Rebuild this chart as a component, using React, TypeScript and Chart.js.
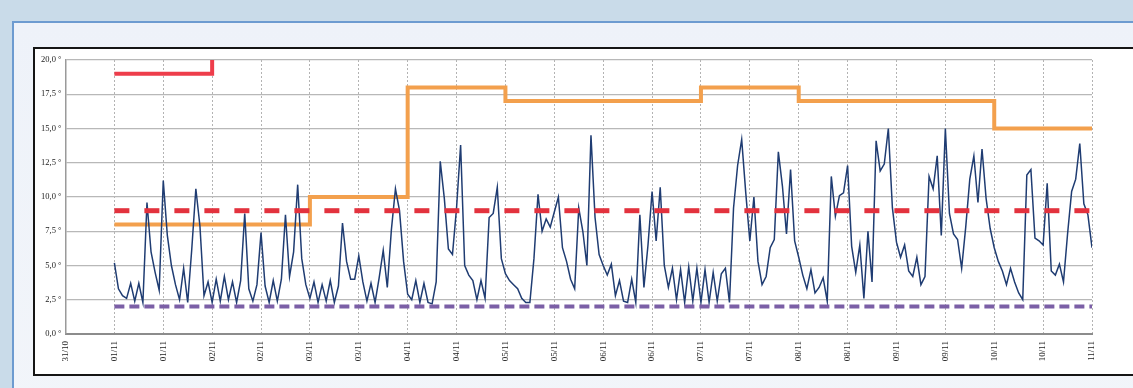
import React, { useEffect, useRef } from 'react';
import { Chart, registerables } from 'chart.js';

Chart.register(...registerables);

// x axis: hours since 31/10 12:00, one tick every 12 hours
const xTickLabels = [
  '31/10', '01/11', '01/11', '02/11', '02/11', '03/11', '03/11', '04/11', '04/11', '05/11', '05/11',
  '06/11', '06/11', '07/11', '07/11', '08/11', '08/11', '09/11', '09/11', '10/11', '10/11', '11/11',
];
const xMin = 0;
const xMax = 252;
const xStep = 12;

const yMin = 0;
const yMax = 20;
const yStep = 2.5;

// measured temperature, hourly, starting at hour 12 (01/11 00:00)
const temperatureStartHour = 12;
const temperature = [
  5.2, 3.3, 2.8, 2.6, 3.7, 2.4, 3.7, 2.3, 9.6, 6.0, 4.5, 3.2, 11.2, 7.2, 5.0, 3.6, 2.5, 4.8, 2.3, 6.2,
  10.6, 7.9, 2.8, 3.8, 2.3, 4.0, 2.4, 4.2, 2.5, 3.8, 2.3, 3.9, 8.8, 3.3, 2.4, 3.6, 7.4, 3.5, 2.3, 3.9,
  2.4, 4.0, 8.7, 4.2, 6.0, 10.9, 5.5, 3.6, 2.6, 3.8, 2.3, 3.6, 2.4, 3.9, 2.3, 3.5, 8.1, 5.3, 4.0, 4.0,
  5.7, 3.8, 2.4, 3.7, 2.3, 4.1, 6.1, 3.4, 7.6, 10.6, 9.0, 5.3, 2.9, 2.5, 3.9, 2.3, 3.7, 2.3, 2.2, 3.8,
  12.6, 9.9, 6.2, 5.8, 9.2, 13.8, 5.0, 4.3, 3.9, 2.5, 3.9, 2.6, 8.5, 8.8, 10.7, 5.5, 4.4, 3.9, 3.6, 3.3,
  2.6, 2.3, 2.3, 5.5, 10.2, 7.5, 8.4, 7.8, 8.9, 10.0, 6.3, 5.3, 4.0, 3.3, 9.2, 7.5, 5.0, 14.5, 8.5, 5.8,
  5.0, 4.3, 5.1, 2.8, 3.9, 2.4, 2.3, 4.0, 2.3, 8.7, 3.4, 6.5, 10.4, 6.8, 10.7, 5.0, 3.4, 4.8, 2.5, 4.7,
  2.3, 4.9, 2.4, 4.8, 2.3, 4.7, 2.3, 4.5, 2.4, 4.4, 4.8, 2.3, 9.2, 12.3, 14.2, 10.3, 6.8, 10.0, 5.3, 3.6,
  4.2, 6.3, 6.9, 13.3, 10.8, 7.3, 12.0, 6.8, 5.6, 4.3, 3.3, 4.7, 3.0, 3.4, 4.1, 2.4, 11.5, 8.6, 10.1, 10.3,
  12.3, 6.4, 4.5, 6.5, 2.6, 7.5, 3.8, 14.1, 11.9, 12.4, 15.0, 9.2, 6.7, 5.6, 6.5, 4.6, 4.2, 5.6, 3.6, 4.2,
  11.5, 10.6, 13.0, 7.2, 15.0, 8.8, 7.3, 6.9, 4.8, 7.8, 11.3, 13.0, 9.6, 13.5, 9.9, 7.7, 6.3, 5.3, 4.6, 3.6,
  4.8, 3.8, 3.0, 2.5, 11.6, 12.0, 7.0, 6.8, 6.5, 11.0, 4.6, 4.3, 5.1, 3.8, 7.3, 10.4, 11.3, 13.9, 9.5, 8.7,
  6.3,
];

// set point (orange), step held until next change
const setpointHours = [12, 60, 84, 108, 156, 180, 228, 252];
const setpointValues = [8, 10, 18, 17, 18, 17, 15, 15];

// upper limit (red solid)
const upperLimitHours = [12, 36];
const upperLimitValues = [19, 20];

// alarm thresholds (dashed)
const highThresholdHours = [12, 252];
const highThresholdValues = [9, 9];
const lowThresholdHours = [12, 252];
const lowThresholdValues = [2, 2];

const pts = (xs: number[], ys: number[]) => xs.map((x, i) => ({ x, y: ys[i] }));

export default function App() {
  const canvasRef = useRef<HTMLCanvasElement | null>(null);

  useEffect(() => {
    if (!canvasRef.current) return;
    const tempData = temperature.map((y, i) => ({ x: temperatureStartHour + i, y }));
    const chart = new Chart(canvasRef.current, {
      type: 'line',
      data: {
        datasets: [
          {
            data: pts(lowThresholdHours, lowThresholdValues),
            borderColor: '#7b5fa6',
            borderWidth: 4,
            borderDash: [10, 5],
            pointRadius: 0,
          },
          {
            data: pts(highThresholdHours, highThresholdValues),
            borderColor: '#e3323e',
            borderWidth: 5,
            borderDash: [15, 15],
            pointRadius: 0,
          },
          {
            data: tempData,
            borderColor: '#1f3c72',
            borderWidth: 1.5,
            pointRadius: 0,
            tension: 0,
          },
          {
            data: pts(setpointHours, setpointValues),
            borderColor: '#f3a04d',
            borderWidth: 4,
            stepped: 'before',
            pointRadius: 0,
          },
          {
            data: pts(upperLimitHours, upperLimitValues),
            borderColor: '#ee3d4b',
            borderWidth: 4,
            stepped: 'before',
            pointRadius: 0,
          },
        ],
      },
      options: {
        responsive: false,
        animation: false,
        events: [],
        layout: { padding: { top: 10, right: 41, left: 0, bottom: 0 } },
        plugins: { legend: { display: false }, tooltip: { enabled: false }, title: { display: false } },
        scales: {
          x: {
            type: 'linear',
            min: xMin,
            max: xMax,
            afterFit: (s: any) => { s.height = 39; },
            ticks: {
              stepSize: xStep,
              autoSkip: false,
              maxRotation: 90,
              minRotation: 90,
              padding: 7,
              color: '#222',
              font: { family: 'Liberation Serif', size: 9 },
              callback: (_v: any, i: number) => xTickLabels[i],
            },
            grid: { color: '#b3b3b3', lineWidth: 1, drawTicks: false },
            border: { color: '#8c8c8c', width: 2, dash: [2, 2] },
          },
          y: {
            min: yMin,
            max: yMax,
            afterFit: (s: any) => { s.width = 29.5; },
            ticks: {
              stepSize: yStep,
              padding: 4,
              color: '#222',
              font: { family: 'Liberation Serif', size: 8.5 },
              callback: (v: any) => Number(v).toFixed(1).replace('.', ',') + ' °',
            },
            grid: { color: '#b8b8b8', lineWidth: 1.3, drawTicks: false },
            border: { color: '#9a9a9a', width: 1.5 },
          },
        },
      },
    });
    return () => chart.destroy();
  }, []);

  return (
    <div style={{ position: 'fixed', left: 0, top: 0, width: 1133, height: 388, overflow: 'hidden', background: '#c9dbe9' }}>
      <div
        style={{
          position: 'absolute', left: 12, top: 21, width: 1200, height: 420,
          border: '2px solid #6d9bd0', background: 'linear-gradient(180deg, #eef2f9 0%, #f2f5fa 100%)',
        }}
      />
      <div
        style={{
          position: 'absolute', left: 33, top: 47, width: 1200, height: 325,
          border: '2px solid #151515', background: '#ffffff',
        }}
      />
      <canvas ref={canvasRef} width={1097} height={323} style={{ position: 'absolute', left: 36, top: 50, width: 1097, height: 323 }} />
    </div>
  );
}
